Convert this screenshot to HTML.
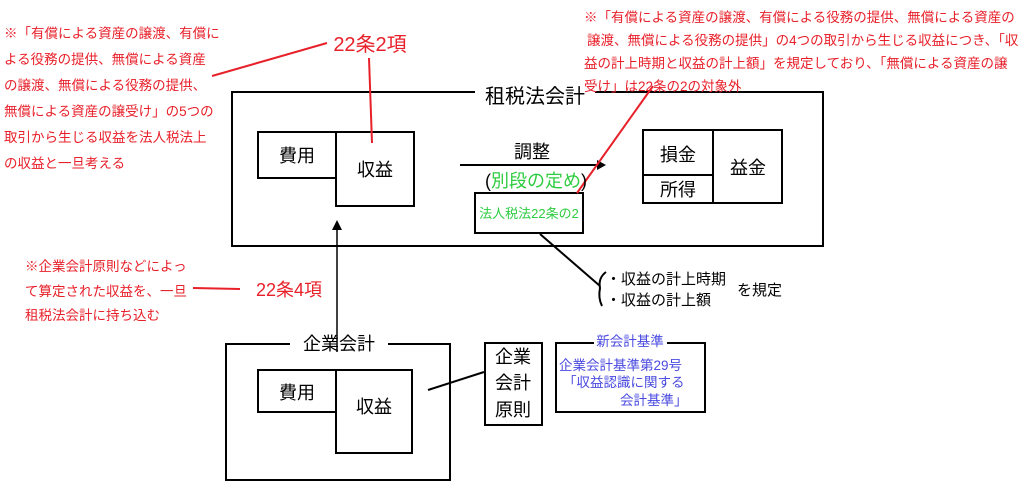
<!DOCTYPE html>
<html><head><meta charset="utf-8"><style>
html,body{margin:0;padding:0;background:#fff;}
svg{display:block;font-family:"Liberation Sans","Noto Sans CJK JP",sans-serif;}
</style></head><body>
<svg width="1024" height="486" viewBox="0 0 1024 486" xmlns="http://www.w3.org/2000/svg">
<g fill="none" stroke="#000" stroke-width="2">
<!-- 租税法会計 box -->
<polyline points="475,92 232,92 232,246 823,246 823,92 595,92"/>
<rect x="258" y="132" width="78" height="46"/>
<rect x="336" y="132" width="78" height="74"/>
<line x1="460" y1="165" x2="600" y2="165"/>
<rect x="475" y="193" width="108" height="40"/>
<rect x="643" y="130" width="139" height="73"/>
<line x1="713" y1="130" x2="713" y2="203"/>
<line x1="643" y1="175" x2="713" y2="175"/>
<line x1="540" y1="234" x2="600" y2="286"/>
<path d="M606,272 Q598,278 600,288 Q598,298 602,306" />
<!-- vertical arrow -->
<line x1="337" y1="352" x2="337" y2="226" stroke-width="1.5"/>
<!-- 企業会計 box -->
<polyline points="290,344 226,344 226,480 450,480 450,344 388,344"/>
<rect x="258" y="370" width="78" height="42"/>
<rect x="336" y="370" width="76" height="83"/>
<line x1="428" y1="390" x2="484" y2="372"/>
<rect x="485" y="343" width="57" height="82"/>
<polyline points="594,343 556,343 556,412 705,412 705,343 667,343"/>
</g>
<polygon points="606,165 597,160 597,170" fill="#000"/>
<polygon points="337,220 332,230 342,230" fill="#000"/>
<g stroke="#e8202a" stroke-width="2" fill="none">
<line x1="212" y1="76" x2="327" y2="43"/>
<line x1="369" y1="58" x2="372" y2="143"/>
<line x1="577" y1="193" x2="653" y2="86"/>
<line x1="193" y1="288" x2="240" y2="289"/>
</g>
<g fill="#000" font-size="18" text-anchor="middle">
<text x="535" y="103" font-size="20">租税法会計</text>
<text x="297" y="162">費用</text>
<text x="375" y="176">収益</text>
<text x="532" y="158">調整</text>
<text x="536" y="187">(<tspan fill="#2ecc40">別段の定め</tspan>)</text>
<text x="678" y="161">損金</text>
<text x="678" y="196">所得</text>
<text x="748" y="174">益金</text>
<text x="339" y="350">企業会計</text>
<text x="297" y="399">費用</text>
<text x="374" y="413">収益</text>
<text x="513" y="363">企業</text>
<text x="513" y="389">会計</text>
<text x="513" y="416">原則</text>
</g>
<g fill="#000" font-size="15">
<text x="606" y="284">・収益の計上時期</text>
<text x="606" y="305">・収益の計上額</text>
<text x="737" y="295">を規定</text>
</g>
<text x="529" y="218" font-size="13" fill="#2ecc40" text-anchor="middle">法人税法22条の2</text>
<g fill="#e8202a">
<text x="370" y="51" font-size="20" text-anchor="middle">22条2項</text>
<text x="289" y="296" font-size="18" text-anchor="middle">22条4項</text>
<g font-size="13.5">
<text x="4" y="38">※「有償による資産の譲渡、有償に</text>
<text x="4" y="64">よる役務の提供、無償による資産</text>
<text x="4" y="90">の譲渡、無償による役務の提供、</text>
<text x="4" y="116">無償による資産の譲受け」の5つの</text>
<text x="4" y="142">取引から生じる収益を法人税法上</text>
<text x="4" y="168">の収益と一旦考える</text>
<text x="25" y="271">※企業会計原則などによっ</text>
<text x="25" y="296">て算定された収益を、一旦</text>
<text x="25" y="320">租税法会計に持ち込む</text>
<text x="584" y="22">※「有償による資産の譲渡、有償による役務の提供、無償による資産の</text>
<text x="587" y="45">譲渡、無償による役務の提供」の4つの取引から生じる収益につき、「収</text>
<text x="584" y="68">益の計上時期と収益の計上額」を規定しており、「無償による資産の譲</text>
<text x="584" y="91">受け」は22条の2の対象外</text>
</g>
</g>
<g fill="#4a4ae0" font-size="13.5">
<text x="630" y="346" text-anchor="middle">新会計基準</text>
<text x="559" y="370">企業会計基準第29号</text>
<text x="563" y="387">「収益認識に関する</text>
<text x="620" y="405">会計基準」</text>
</g>
</svg>
</body></html>
